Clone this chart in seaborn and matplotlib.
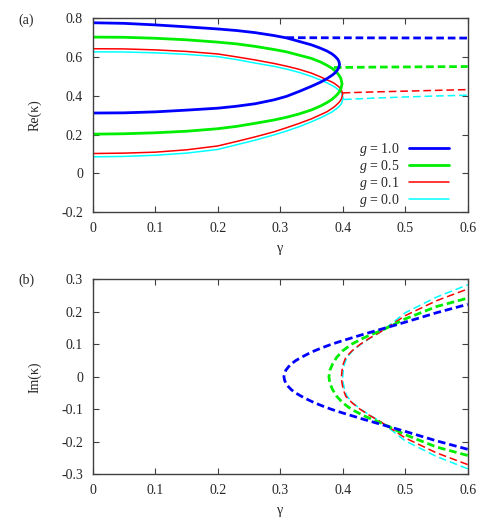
import numpy as np
import pandas as pd
import seaborn as sns
import matplotlib
matplotlib.use('Agg')
import matplotlib.pyplot as plt
from matplotlib.ticker import FuncFormatter, MultipleLocator

# valores
g_labels = ['1.0', '0.5', '0.1', '0.0']
colores = ['#0000ff', '#00ee00', '#ff0000', '#00ffff']
grosores = [2.0, 2.0, 1.1, 1.1]

# Re(kappa), ramas reales (continuas): rama superior desde gamma=0 hasta el punto de retorno
# y de vuelta por la rama inferior
re_gam_g10 = [0.0, 0.05, 0.1, 0.15, 0.2, 0.23, 0.26, 0.29, 0.31, 0.33, 0.35, 0.365, 0.375, 0.383, 0.388, 0.392, 0.394,
              0.395,
              0.394, 0.392, 0.388, 0.383, 0.375, 0.365, 0.35, 0.33, 0.31, 0.29, 0.26, 0.23, 0.2, 0.15, 0.1, 0.05, 0.0]
re_val_g10 = [0.777, 0.774, 0.766, 0.756, 0.745, 0.737, 0.726, 0.711, 0.699, 0.681, 0.663, 0.645, 0.631, 0.616, 0.603, 0.589, 0.577,
              0.562,
              0.547, 0.535, 0.519, 0.506, 0.489, 0.471, 0.449, 0.422, 0.397, 0.379, 0.359, 0.346, 0.336, 0.326, 0.317, 0.312, 0.311]
re_gam_g05 = [0.0, 0.05, 0.1, 0.15, 0.2, 0.23, 0.26, 0.29, 0.31, 0.33, 0.35, 0.365, 0.375, 0.383, 0.388, 0.392, 0.395, 0.397,
              0.399,
              0.397, 0.395, 0.392, 0.388, 0.383, 0.375, 0.365, 0.35, 0.33, 0.31, 0.29, 0.26, 0.23, 0.2, 0.15, 0.1, 0.05, 0.0]
re_val_g05 = [0.703, 0.702, 0.697, 0.689, 0.677, 0.668, 0.655, 0.639, 0.627, 0.610, 0.593, 0.574, 0.557, 0.542, 0.528, 0.515, 0.502, 0.490,
              0.462,
              0.434, 0.422, 0.409, 0.396, 0.382, 0.365, 0.348, 0.327, 0.306, 0.289, 0.275, 0.258, 0.242, 0.230, 0.217, 0.209, 0.204, 0.202]
re_gam_g01 = [0.0, 0.05, 0.1, 0.15, 0.2, 0.23, 0.26, 0.29, 0.31, 0.33, 0.35, 0.365, 0.375, 0.383, 0.388, 0.392, 0.395, 0.398,
              0.400,
              0.398, 0.395, 0.392, 0.388, 0.383, 0.375, 0.365, 0.35, 0.33, 0.31, 0.29, 0.26, 0.23, 0.2, 0.15, 0.1, 0.05, 0.0]
re_val_g01 = [0.643, 0.642, 0.637, 0.629, 0.616, 0.601, 0.585, 0.567, 0.553, 0.537, 0.517, 0.497, 0.482, 0.471, 0.461, 0.451, 0.443, 0.430,
              0.408,
              0.384, 0.369, 0.359, 0.347, 0.335, 0.318, 0.303, 0.281, 0.257, 0.235, 0.214, 0.188, 0.164, 0.141, 0.121, 0.109, 0.104, 0.102]
re_gam_g00 = [0.0, 0.05, 0.1, 0.15, 0.2, 0.23, 0.26, 0.29, 0.31, 0.33, 0.35, 0.365, 0.375, 0.383, 0.388, 0.392, 0.395, 0.398,
              0.401,
              0.398, 0.395, 0.392, 0.388, 0.383, 0.375, 0.365, 0.35, 0.33, 0.31, 0.29, 0.26, 0.23, 0.2, 0.15, 0.1, 0.05, 0.0]
re_val_g00 = [0.627, 0.626, 0.622, 0.614, 0.602, 0.587, 0.569, 0.552, 0.538, 0.521, 0.500, 0.481, 0.467, 0.453, 0.444, 0.434, 0.425, 0.415,
              0.387,
              0.359, 0.347, 0.338, 0.328, 0.317, 0.303, 0.287, 0.266, 0.240, 0.218, 0.198, 0.171, 0.147, 0.123, 0.104, 0.093, 0.087, 0.085]

# Re(kappa) de los pares complejos (discontinuas)
re_dash_gam_g10 = [0.31, 0.45, 0.6]
re_dash_val_g10 = [0.700, 0.699, 0.698]
re_dash_gam_g05 = [0.386, 0.45, 0.5, 0.6]
re_dash_val_g05 = [0.546, 0.548, 0.549, 0.551]
re_dash_gam_g01 = [0.400, 0.45, 0.5, 0.55, 0.6]
re_dash_val_g01 = [0.415, 0.420, 0.424, 0.428, 0.432]
re_dash_gam_g00 = [0.402, 0.45, 0.5, 0.55, 0.6]
re_dash_val_g00 = [0.381, 0.388, 0.394, 0.399, 0.403]

# Im(kappa): gamma leido para cada valor de Im, de la rama negativa a la positiva
im_val_g10 = [-0.223, -0.197, -0.168, -0.14, -0.13, -0.12, -0.11, -0.10, -0.09, -0.08, -0.07, -0.06, -0.05, -0.04, -0.03, -0.02, -0.01,
              0.0,
              0.01, 0.02, 0.03, 0.04, 0.05, 0.06, 0.07, 0.08, 0.09, 0.10, 0.11, 0.12, 0.13, 0.14, 0.168, 0.197, 0.223]
im_gam_g10 = [0.60, 0.55, 0.50, 0.450, 0.432, 0.415, 0.398, 0.382, 0.368, 0.355, 0.344, 0.334, 0.325, 0.318, 0.313, 0.309, 0.307,
              0.306,
              0.307, 0.309, 0.313, 0.318, 0.325, 0.334, 0.344, 0.355, 0.368, 0.382, 0.398, 0.415, 0.432, 0.450, 0.50, 0.55, 0.60]
im_val_g05 = [-0.242, -0.216, -0.178, -0.145, -0.13, -0.12, -0.10, -0.08, -0.06, -0.04, -0.02,
              0.0,
              0.02, 0.04, 0.06, 0.08, 0.10, 0.12, 0.13, 0.145, 0.178, 0.216, 0.242]
im_gam_g05 = [0.60, 0.55, 0.50, 0.465, 0.446, 0.434, 0.414, 0.400, 0.3905, 0.384, 0.3795,
              0.378,
              0.3795, 0.384, 0.3905, 0.400, 0.414, 0.434, 0.446, 0.465, 0.50, 0.55, 0.60]
im_val_g01 = [-0.270, -0.234, -0.188, -0.145, -0.135, -0.12, -0.10, -0.08, -0.06, -0.04, -0.02,
              0.0,
              0.02, 0.04, 0.06, 0.08, 0.10, 0.12, 0.135, 0.145, 0.188, 0.234, 0.270]
im_gam_g01 = [0.60, 0.55, 0.50, 0.466, 0.458, 0.444, 0.428, 0.415, 0.405, 0.401, 0.399,
              0.398,
              0.399, 0.401, 0.405, 0.415, 0.428, 0.444, 0.458, 0.466, 0.50, 0.55, 0.60]
im_val_g00 = [-0.283, -0.245, -0.197, -0.147, -0.135, -0.12, -0.10, -0.08, -0.06, -0.04, -0.02,
              0.0,
              0.02, 0.04, 0.06, 0.08, 0.10, 0.12, 0.135, 0.147, 0.197, 0.245, 0.283]
im_gam_g00 = [0.60, 0.55, 0.50, 0.467, 0.458, 0.445, 0.429, 0.416, 0.407, 0.403, 0.401,
              0.400,
              0.401, 0.403, 0.407, 0.416, 0.429, 0.445, 0.458, 0.467, 0.50, 0.55, 0.60]

sns.set_style('ticks')
plt.rcParams['font.family'] = ['Liberation Serif', 'DejaVu Serif']
plt.rcParams['mathtext.fontset'] = 'custom'
plt.rcParams['mathtext.rm'] = 'Liberation Serif'
plt.rcParams['mathtext.it'] = 'Liberation Serif:italic'
plt.rcParams['axes.unicode_minus'] = False
plt.rcParams['lines.scale_dashes'] = False

re_solid = [(re_gam_g10, re_val_g10), (re_gam_g05, re_val_g05),
            (re_gam_g01, re_val_g01), (re_gam_g00, re_val_g00)]
re_dash = [(re_dash_gam_g10, re_dash_val_g10), (re_dash_gam_g05, re_dash_val_g05),
           (re_dash_gam_g01, re_dash_val_g01), (re_dash_gam_g00, re_dash_val_g00)]
im_dash = [(im_gam_g10, im_val_g10), (im_gam_g05, im_val_g05),
           (im_gam_g01, im_val_g01), (im_gam_g00, im_val_g00)]

fig = plt.figure(figsize=(4.98, 5.23), dpi=100)
ax_a = fig.add_axes([0.1861, 0.5946, 0.7530, 0.3704])
ax_b = fig.add_axes([0.1861, 0.0931, 0.7530, 0.3729])

dash_style = (0, (5.5, 2.8))
fs = 10

# panel (a) - orden inverso para que el azul quede arriba
for i in [3, 2, 1, 0]:
    gx, gy = re_solid[i]
    sns.lineplot(x=gx, y=gy, ax=ax_a, sort=False, estimator=None, color=colores[i],
                 linewidth=grosores[i], label=f'$g$ = {g_labels[i]}')
    dx, dy = re_dash[i]
    sns.lineplot(x=dx, y=dy, ax=ax_a, sort=False, estimator=None, color=colores[i],
                 linewidth=grosores[i], linestyle=dash_style)

# panel (b)
for i in [3, 2, 1, 0]:
    ix, iy = im_dash[i]
    sns.lineplot(x=ix, y=iy, ax=ax_b, sort=False, estimator=None, color=colores[i],
                 linewidth=grosores[i], linestyle=dash_style)

fmt = FuncFormatter(lambda v, _: f'{round(v, 2):g}' if abs(v) > 1e-9 else '0')
for ax, ylo, yhi, ystep, ylab in [(ax_a, -0.2, 0.8, 0.2, 'Re(κ)'), (ax_b, -0.3, 0.3, 0.1, 'Im(κ)')]:
    ax.set_xlim(0, 0.6)
    ax.set_ylim(ylo, yhi)
    ax.xaxis.set_major_locator(MultipleLocator(0.1))
    ax.yaxis.set_major_locator(MultipleLocator(ystep))
    ax.xaxis.set_major_formatter(fmt)
    ax.yaxis.set_major_formatter(fmt)
    ax.tick_params(direction='in', length=4, width=0.8, color='#404040', labelsize=fs,
                   top=True, right=True, pad=7)
    for s in ax.spines.values():
        s.set_visible(True)
        s.set_color('#404040')
        s.set_linewidth(1.0)
    ax.set_xlabel('γ', fontsize=fs, labelpad=5)
    ax.set_ylabel(ylab, fontsize=fs, labelpad=14)

h, l = ax_a.get_legend_handles_labels()
ax_a.legend(h[::-1], l[::-1], loc='lower right', bbox_to_anchor=(0.95, 0.015), frameon=False,
            markerfirst=False, fontsize=fs, handlelength=2.9, labelspacing=0.0,
            handletextpad=0.65, borderaxespad=0.0, borderpad=0.0)

fig.text(0.036, 0.962, '(a)', fontsize=fs, ha='left', va='center')
fig.text(0.036, 0.464, '(b)', fontsize=fs, ha='left', va='center')

fig.savefig('out.png', dpi=100)
